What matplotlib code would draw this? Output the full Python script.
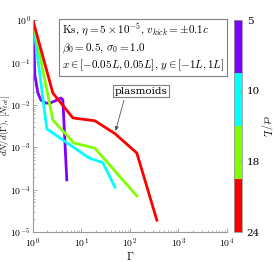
import matplotlib
matplotlib.use('Agg')
import matplotlib.pyplot as plt
import numpy as np
from matplotlib.colors import ListedColormap, BoundaryNorm
from matplotlib.cm import ScalarMappable
from matplotlib.ticker import FuncFormatter, LogLocator

plt.rcParams['mathtext.fontset'] = 'cm'
plt.rcParams['font.family'] = 'serif'

# snapshot times (ct/L) and the line colour used for each
times = [5, 10, 18, 24]
colours = ['#8000ff', '#00ffff', '#80ff00', '#ff0000']

# spectra dN/dGamma, normalised to N_tot
gamma_t5 = [1.0, 1.1, 1.27, 1.46, 1.85, 2.24, 2.84, 3.78, 4.15, 5.0]
dn_t5 = [1.0, 0.05, 0.019, 0.013, 0.011, 0.011, 0.0123, 0.0145, 0.013, 1.7e-4]

gamma_t10 = [1.0, 1.94, 14.3, 27.7, 49.0]
dn_t10 = [1.0, 0.0027, 5.6e-4, 4.3e-4, 1.15e-4]

gamma_t18 = [1.0, 2.58, 7.0, 19.0, 139.0]
dn_t18 = [1.0, 0.0044, 0.00126, 9.5e-4, 7.1e-5]

gamma_t24 = [1.0, 2.58, 6.7, 19.0, 49.0, 139.0, 360.0]
dn_t24 = [1.0, 0.019, 0.0049, 0.0042, 0.0021, 7.3e-4, 1.9e-5]

gammas = [gamma_t5, gamma_t10, gamma_t18, gamma_t24]
spectra = [dn_t5, dn_t10, dn_t18, dn_t24]

fig = plt.figure(figsize=(2.74, 2.62), dpi=100)
ax = fig.add_axes([0.120, 0.1145, 0.708, 0.809])

for g, s, c in zip(gammas, spectra, colours):
    ax.plot(g, s, color=c, lw=2.0)

ax.set_xscale('log')
ax.set_yscale('log')
ax.set_xlim(1, 1e4)
ax.set_ylim(1e-5, 1)

fmt = FuncFormatter(lambda v, p: r'$10^{%d}$' % int(round(np.log10(v))))
ax.xaxis.set_major_formatter(fmt)
ax.yaxis.set_major_formatter(fmt)
ax.xaxis.set_major_locator(LogLocator(base=10, numticks=10))
ax.yaxis.set_major_locator(LogLocator(base=10, numticks=10))
ax.xaxis.set_minor_locator(LogLocator(base=10, subs=np.arange(2, 10), numticks=20))
ax.yaxis.set_minor_locator(LogLocator(base=10, subs=np.arange(2, 10), numticks=20))

for side in ['top', 'right']:
    ax.spines[side].set_visible(False)
for side in ['left', 'bottom']:
    ax.spines[side].set_color('0.6')
    ax.spines[side].set_linewidth(0.8)
ax.tick_params(which='both', direction='in', colors='0.6', labelcolor='black', labelsize=7)
ax.tick_params(which='major', length=3, width=0.6)
ax.tick_params(which='minor', length=1.5, width=0.5)
ax.tick_params(axis='y', which='major', pad=1.5)
ax.tick_params(axis='x', which='major', pad=3.2)

ax.set_xlabel(r'$\Gamma$', fontsize=8)
ax.set_ylabel(r'$dN/d(\Gamma),\,[N_{tot}]$', fontsize=6.5)
ax.xaxis.set_label_coords(0.5, -0.085)
ax.yaxis.set_label_coords(-0.108, 0.5)

ax.text(0.15, 0.99,
        r'$\mathrm{Ks},\,\eta=5\times10^{-5},\,v_{kick}=\pm0.1c$' '\n'
        r'$\beta_0=0.5,\,\sigma_0=1.0$' '\n'
        r'$x\in[-0.05L,0.05L],\,y\in[-1L,1L]$',
        transform=ax.transAxes, va='top', ha='left', fontsize=8,
        bbox=dict(boxstyle='square,pad=0.25', fc='white', ec='0.5', lw=0.8))

ax.annotate('plasmoids', xy=(49.0, 0.0021), xytext=(170, 0.021),
            fontsize=7.5, ha='center', va='center',
            bbox=dict(boxstyle='square,pad=0.15', fc='white', ec='0.5', lw=0.8),
            arrowprops=dict(arrowstyle='-|>', color='0.35', lw=0.6,
                            mutation_scale=6, relpos=(0.2, 0.0)))

# discrete colour bar for ct/L
cax = fig.add_axes([0.854, 0.1145, 0.029, 0.809])
cmap = ListedColormap(colours)
norm = BoundaryNorm([0, 1, 2, 3, 4], cmap.N)
cb = fig.colorbar(ScalarMappable(norm=norm, cmap=cmap), cax=cax)
cax.invert_yaxis()
cb.set_ticks([0, 4 / 3, 8 / 3, 4])
cb.set_ticklabels([str(t) for t in times])
cb.outline.set_edgecolor('0.6')
cb.outline.set_linewidth(0.6)
cax.tick_params(direction='in', length=2, width=0.5, colors='0.6', labelcolor='black', labelsize=7.5)
cax.minorticks_off()
cb.set_label(r'$ct/L$', rotation=270, fontsize=7.5, labelpad=10)

fig.savefig('out.png', dpi=100)
